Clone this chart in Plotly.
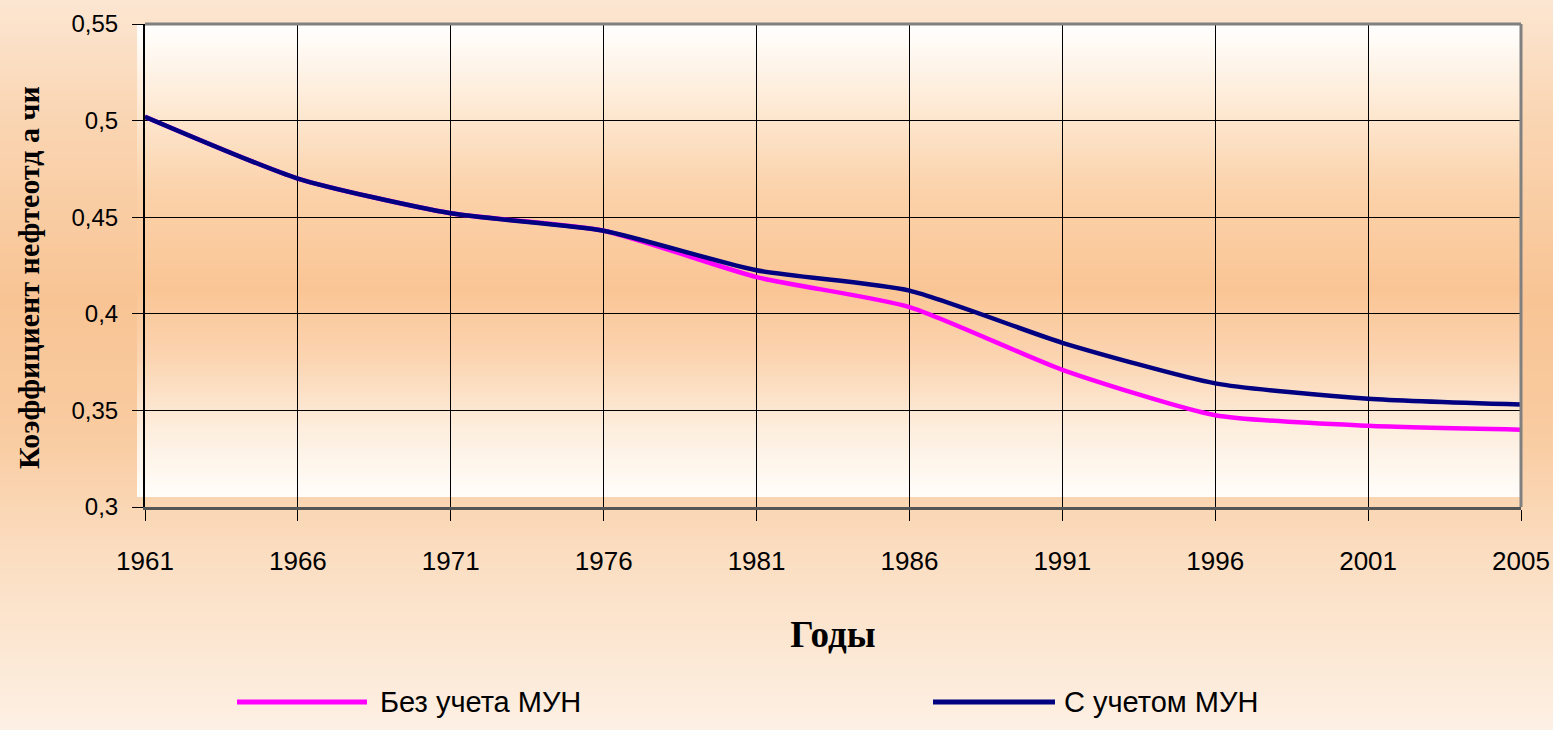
import plotly.graph_objects as go

# ---------------- data ----------------
years = ["1961", "1966", "1971", "1976", "1981", "1986", "1991", "1996", "2001", "2005"]
without_eor = [0.502, 0.470, 0.452, 0.443, 0.419, 0.4035, 0.371, 0.3475, 0.342, 0.340]
with_eor = [0.502, 0.470, 0.452, 0.443, 0.4225, 0.412, 0.385, 0.364, 0.356, 0.353]
series_names = ["Без учета МУН", "С учетом МУН"]
y_title = "Коэффициент нефтеотд а чи"
x_title = "Годы"
y_ticks = [0.3, 0.35, 0.4, 0.45, 0.5, 0.55]

# ---------------- layout geometry ----------------
W, H = 1553, 730
PL, PR, PT, PB = 145, 1521, 24, 507  # plot area in window pixels
ML, MT, MR, MB = PL, PT, W - PR, H - PB
PW, PH = W - ML - MR, H - MT - MB


def px2x(px):  # window px -> paper x
    return (px - PL) / PW


def py2y(py):  # window px -> paper y
    return (PB - py) / PH


def interp(stops, y):
    for (y0, c0), (y1, c1) in zip(stops[:-1], stops[1:]):
        if y0 <= y <= y1:
            t = (y - y0) / (y1 - y0) if y1 > y0 else 0
            return tuple(round(a + (b - a) * t) for a, b in zip(c0, c1))
    return stops[-1][1]


shapes = []

# page gradient
page_stops = [(0, (252, 230, 210)), (120, (250, 213, 178)), (300, (248, 196, 148)),
              (430, (249, 203, 160)), (560, (251, 222, 194)), (730, (253, 240, 228))]
step = 2
for py in range(0, H, step):
    r, g, b = interp(page_stops, py + step / 2)
    shapes.append(dict(type="rect", xref="paper", yref="paper", layer="below",
                       x0=px2x(-2), x1=px2x(W + 2), y0=py2y(py + step), y1=py2y(py),
                       line=dict(width=0), fillcolor=f"rgb({r},{g},{b})"))

# plot area gradient
plot_stops = [(24, (255, 255, 255)), (90, (254, 238, 220)), (190, (251, 210, 170)),
              (290, (250, 197, 149)), (360, (251, 213, 178)), (430, (253, 238, 222)),
              (497, (255, 253, 250))]
for py in range(PT, 497, step):
    r, g, b = interp(plot_stops, py + step / 2)
    shapes.append(dict(type="rect", xref="paper", yref="paper", layer="below",
                       x0=px2x(137), x1=px2x(PR), y0=py2y(min(py + step, 497)), y1=py2y(py),
                       line=dict(width=0), fillcolor=f"rgb({r},{g},{b})"))

# gray frame on top and right
shapes.append(dict(type="line", xref="paper", yref="paper", layer="above",
                   x0=0, x1=1, y0=1, y1=1, line=dict(color="#808080", width=3)))
shapes.append(dict(type="line", xref="paper", yref="paper", layer="above",
                   x0=1, x1=1, y0=0, y1=1, line=dict(color="#808080", width=3)))

fig = go.Figure()
fig.add_trace(go.Scatter(x=years, y=without_eor, name=series_names[0], mode="lines",
                         line=dict(color="#FF00FF", width=4.5, shape="spline", smoothing=0.6)))
fig.add_trace(go.Scatter(x=years, y=with_eor, name=series_names[1], mode="lines",
                         line=dict(color="#000080", width=4.5, shape="spline", smoothing=0.6)))

# manual legend (long line samples as in the original)
legend_pos = [(237, 367, 378), (933, 1055, 1062)]
legend_colors = ["#FF00FF", "#000080"]
annotations = []
for (lx0, lx1, tx), name, col in zip(legend_pos, series_names, legend_colors):
    shapes.append(dict(type="line", xref="paper", yref="paper", layer="above",
                       x0=px2x(lx0), x1=px2x(lx1), y0=py2y(702), y1=py2y(702),
                       line=dict(color=col, width=5)))
    annotations.append(dict(xref="paper", yref="paper", x=px2x(tx), y=py2y(702),
                            xanchor="left", yanchor="middle", showarrow=False, text=name,
                            font=dict(family="Liberation Sans, Arial", size=29, color="black")))

# y-axis title placed as in the original (slightly below the plot centre)
annotations.append(dict(xref="paper", yref="paper", x=px2x(28), y=py2y(278),
                        xanchor="center", yanchor="middle", showarrow=False, textangle=-90,
                        text=f"<b>{y_title}</b>",
                        font=dict(family="Liberation Serif, Times New Roman", size=30, color="black")))

fig.update_layout(
    width=W, height=H,
    margin=dict(l=ML, r=MR, t=MT, b=MB, autoexpand=False),
    paper_bgcolor="rgb(251,220,190)",
    plot_bgcolor="rgba(0,0,0,0)",
    separators=", ",
    showlegend=False,
    shapes=shapes,
    annotations=annotations,
    xaxis=dict(
        type="category", range=[0, len(years) - 1], automargin=False,
        showgrid=True, gridcolor="black", gridwidth=1,
        showline=True, linecolor="#555555", linewidth=3,
        ticks="outside", ticklen=11, tickcolor="black", tickwidth=1,
        ticklabelstandoff=18,
        tickfont=dict(family="Liberation Sans, Arial", size=26, color="black"),
        title=dict(text=x_title, standoff=46,
                   font=dict(family="Liberation Serif, Times New Roman", size=37, color="black", weight="bold")),
    ),
    yaxis=dict(
        range=[0.3, 0.55], tickvals=y_ticks, automargin=False,
        showgrid=True, gridcolor="black", gridwidth=1,
        showline=True, linecolor="black", linewidth=2,
        ticks="outside", ticklen=11, tickcolor="black", tickwidth=1,
        ticklabelstandoff=9,
        tickfont=dict(family="Liberation Sans, Arial", size=24, color="black"),
        zeroline=False,
    ),
)

fig.write_html("out.html", config={"displayModeBar": False},
               post_script="document.body.style.margin='0';document.body.style.overflow='hidden';")
